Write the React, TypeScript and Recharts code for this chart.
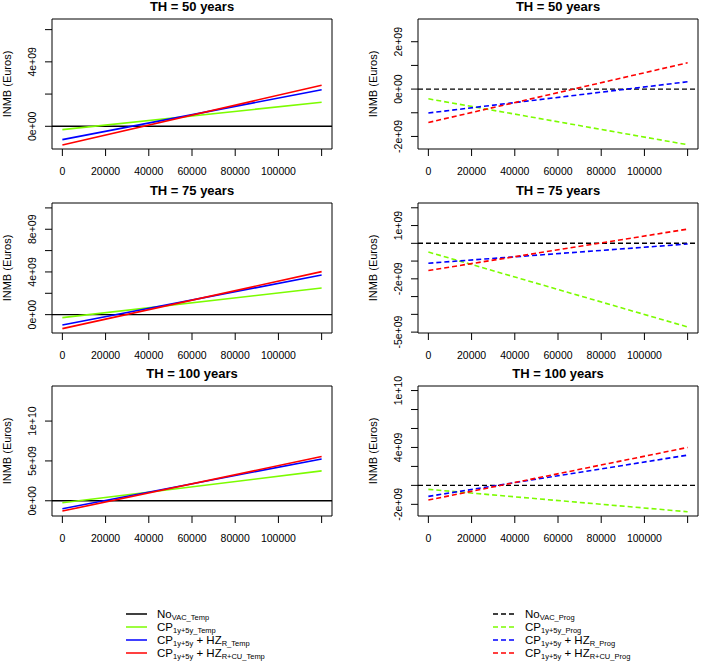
import { LineChart, Line, XAxis, YAxis, ReferenceLine, ReferenceArea } from 'recharts';

const FONT = '"Liberation Sans", Arial, Helvetica, sans-serif';

// willingness-to-pay thresholds (Euros / QALY), first and last point of each line
const wtp = [0, 120000];
const horizons = [50, 75, 100];
const noVac = [0, 0, 0];

// INMB (Euros) at wtp[0] and wtp[1], one pair per time horizon
const cpTemp = [[-0.21e9, 1.49e9], [-0.28e9, 2.49e9], [-0.25e9, 3.75e9]];
const hzrTemp = [[-0.83e9, 2.27e9], [-0.97e9, 3.71e9], [-1.0e9, 5.25e9]];
const hzrcuTemp = [[-1.16e9, 2.55e9], [-1.31e9, 4.03e9], [-1.29e9, 5.55e9]];

const cpProg = [[-0.41e9, -2.35e9], [-0.49e9, -4.71e9], [-0.42e9, -2.78e9]];
const hzrProg = [[-1.01e9, 0.31e9], [-1.12e9, -0.04e9], [-1.16e9, 3.19e9]];
const hzrcuProg = [[-1.41e9, 1.11e9], [-1.53e9, 0.8e9], [-1.55e9, 4.0e9]];

const xTicks = [0, 20000, 40000, 60000, 80000, 100000, 120000];
const xLabels = ['0', '20000', '40000', '60000', '80000', '100000', ''];
const xDomain = [-4800, 124800];

const tempYDomain = [[-1.41e9, 6.66e9], [-1.72e9, 10.46e9], [-1.91e9, 14.4e9]];
const tempYTicks = [[0, 2e9, 4e9, 6e9], [0, 2e9, 4e9, 6e9, 8e9, 1e10], [0, 5e9, 1e10]];
const tempYLabelled = [[0, 4e9], [0, 4e9, 8e9], [0, 5e9, 1e10]];

const progYDomain = [[-2.53e9, 2.96e9], [-5.05e9, 2.27e9], [-3.23e9, 10.48e9]];
const progYTicks = [
  [-2e9, -1e9, 0, 1e9, 2e9],
  [-5e9, -4e9, -3e9, -2e9, -1e9, 0, 1e9, 2e9],
  [-2e9, 0, 2e9, 4e9, 6e9, 8e9, 1e10],
];
const progYLabelled = [[-2e9, 0, 2e9], [-5e9, -2e9, 1e9], [-2e9, 4e9, 1e10]];

// legend entries: [text, 's' for subscript] pieces in order
const legendTemp = [
  [['No', ''], ['VAC_Temp', 's']],
  [['CP', ''], ['1y+5y_Temp', 's']],
  [['CP', ''], ['1y+5y', 's'], [' + HZ', ''], ['R_Temp', 's']],
  [['CP', ''], ['1y+5y', 's'], [' + HZ', ''], ['R+CU_Temp', 's']],
];
const legendProg = [
  [['No', ''], ['VAC_Prog', 's']],
  [['CP', ''], ['1y+5y_Prog', 's']],
  [['CP', ''], ['1y+5y', 's'], [' + HZ', ''], ['R_Prog', 's']],
  [['CP', ''], ['1y+5y', 's'], [' + HZ', ''], ['R+CU_Prog', 's']],
];

const GREEN = '#7CFC00';
const BLUE = '#0000FF';
const RED = '#FF0000';
const LEGEND_COLORS = ['#000000', GREEN, BLUE, RED];

const COLS = [
  { left: 0, width: 350, yAxisW: 52, right: 18 },
  { left: 350, width: 351, yAxisW: 68, right: 3 },
];
const ROW_TOPS = [19, 203, 386];
const BOX_H = 130;
const TOP_PAD = 19;
const X_AXIS_H = 30;

// R style scientific label: 4e+09, -2e+09, 0e+00
function sci(v: number) {
  if (v === 0) return '0e+00';
  const exp = Math.floor(Math.log10(Math.abs(v)));
  const m = Math.round(v / Math.pow(10, exp));
  return `${m}e+${String(exp).padStart(2, '0')}`;
}

function YTick(props: any) {
  const { x, y, payload, labelled } = props;
  if (!labelled.includes(payload.value)) return <g />;
  return (
    <text
      x={x}
      y={y}
      transform={`rotate(-90 ${x} ${y})`}
      textAnchor="middle"
      dominantBaseline="central"
      fontSize={10.5}
      fontFamily={FONT}
      fill="#000"
    >
      {sci(payload.value)}
    </text>
  );
}

function Panel({ kind, row }: { kind: number; row: number }) {
  const col = COLS[kind];
  const boxTop = ROW_TOPS[row];
  const prog = kind === 1;
  const cp = prog ? cpProg : cpTemp;
  const hzr = prog ? hzrProg : hzrTemp;
  const hzrcu = prog ? hzrcuProg : hzrcuTemp;
  const yDomain = prog ? progYDomain[row] : tempYDomain[row];
  const yTicks = prog ? progYTicks[row] : tempYTicks[row];
  const labelled = prog ? progYLabelled[row] : tempYLabelled[row];
  const dash = prog ? '5 3' : undefined;

  const data = wtp.map((w, i) => ({
    wtp: w,
    cp: cp[row][i],
    hzr: hzr[row][i],
    hzrcu: hzrcu[row][i],
  }));

  const boxLeft = col.left + col.yAxisW;
  const boxW = col.width - col.yAxisW - col.right;

  return (
    <>
      <div
        style={{
          position: 'absolute',
          left: boxLeft,
          width: boxW,
          top: boxTop - 20,
          lineHeight: '16px',
          textAlign: 'center',
          fontFamily: FONT,
          fontWeight: 'bold',
          fontSize: 13,
        }}
      >
        TH = {horizons[row]} years
      </div>
      <div
        style={{
          position: 'absolute',
          left: boxLeft - 45 - BOX_H / 2,
          top: boxTop + BOX_H / 2 - 7,
          width: BOX_H,
          lineHeight: '14px',
          textAlign: 'center',
          fontFamily: FONT,
          fontSize: 11,
          transform: 'rotate(-90deg)',
        }}
      >
        INMB (Euros)
      </div>
      <div style={{ position: 'absolute', left: col.left, top: boxTop - TOP_PAD }}>
        <LineChart
          width={col.width}
          height={TOP_PAD + BOX_H + X_AXIS_H}
          data={data}
          margin={{ top: TOP_PAD, right: col.right, bottom: 0, left: 0 }}
        >
          <XAxis
            dataKey="wtp"
            type="number"
            domain={xDomain}
            ticks={xTicks}
            interval={0}
            height={X_AXIS_H}
            axisLine={false}
            tickLine={{ stroke: '#000' }}
            tickSize={7}
            tickMargin={12}
            tick={{ fontSize: 10.5, fontFamily: FONT, fill: '#000' }}
            tickFormatter={(v: number) => xLabels[xTicks.indexOf(v)] ?? ''}
          />
          <YAxis
            type="number"
            domain={yDomain}
            ticks={yTicks}
            interval={0}
            width={col.yAxisW}
            axisLine={false}
            tickLine={{ stroke: '#000' }}
            tickSize={7}
            tickMargin={13}
            tick={<YTick labelled={labelled} />}
          />
          <ReferenceArea
            x1={xDomain[0]}
            x2={xDomain[1]}
            y1={yDomain[0]}
            y2={yDomain[1]}
            fill="none"
            stroke="#000"
            strokeWidth={1}
          />
          <ReferenceLine y={noVac[row]} stroke="#000" strokeWidth={1.4} strokeDasharray={dash} />
          <Line type="linear" dataKey="cp" stroke={GREEN} strokeWidth={1.6} strokeDasharray={dash} dot={false} isAnimationActive={false} />
          <Line type="linear" dataKey="hzr" stroke={BLUE} strokeWidth={1.6} strokeDasharray={dash} dot={false} isAnimationActive={false} />
          <Line type="linear" dataKey="hzrcu" stroke={RED} strokeWidth={1.6} strokeDasharray={dash} dot={false} isAnimationActive={false} />
        </LineChart>
      </div>
    </>
  );
}

function LegendBlock({ items, lineX, textX, dashed }: { items: string[][][]; lineX: number; textX: number; dashed: boolean }) {
  const rowsY = [614, 627, 640, 653];
  return (
    <g>
      {items.map((parts, i) => (
        <g key={i}>
          <line
            x1={lineX}
            x2={lineX + 21}
            y1={rowsY[i]}
            y2={rowsY[i]}
            stroke={LEGEND_COLORS[i]}
            strokeWidth={1.5}
            strokeDasharray={dashed ? '5 3' : undefined}
          />
          <text x={textX} y={rowsY[i] + 3.8} fontFamily={FONT} fontSize={11.5} fill="#000">
            {parts.map(([t, kind], j) => {
              const prevSub = j > 0 && parts[j - 1][1] === 's';
              const dy = kind === 's' ? 1.8 : prevSub ? -1.8 : 0;
              return (
                <tspan key={j} dy={dy} fontSize={kind === 's' ? 7.5 : 11.5}>
                  {t}
                </tspan>
              );
            })}
          </text>
        </g>
      ))}
    </g>
  );
}

export default function App() {
  return (
    <div style={{ position: 'absolute', left: 0, top: 0, width: 701, height: 662, background: '#fff' }}>
      {[0, 1, 2].map((row) => (
        <div key={row}>
          <Panel kind={0} row={row} />
          <Panel kind={1} row={row} />
        </div>
      ))}
      <svg width={701} height={662} style={{ position: 'absolute', left: 0, top: 0, pointerEvents: 'none' }}>
        <LegendBlock items={legendTemp} lineX={126} textX={157} dashed={false} />
        <LegendBlock items={legendProg} lineX={493} textX={525} dashed={true} />
      </svg>
    </div>
  );
}
